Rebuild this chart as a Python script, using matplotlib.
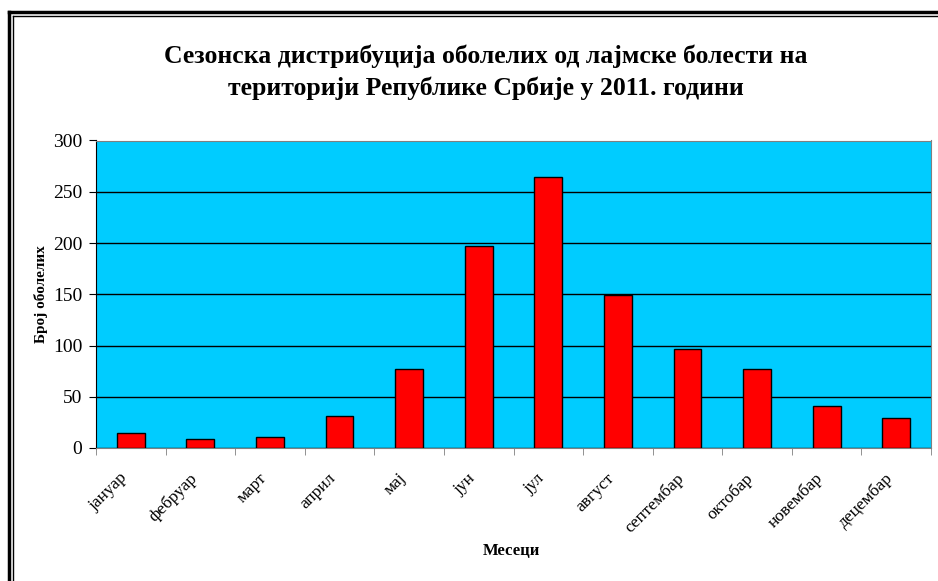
import matplotlib.pyplot as plt
import matplotlib.transforms as mtransforms
from matplotlib.lines import Line2D

# подаци
meseci = ['јануар', 'фебруар', 'март', 'април', 'мај', 'јун', 'јул',
          'август', 'септембар', 'октобар', 'новембар', 'децембар']
oboleli = [15, 9, 11, 31, 77, 197, 264, 149, 97, 77, 41, 29]

plt.rcParams['font.family'] = ['Liberation Serif', 'DejaVu Serif']

W, H = 938, 581
fig = plt.figure(figsize=(W / 100, H / 100), dpi=100)
ax = fig.add_axes([96 / W, 1 - 448 / H, (931 - 96) / W, (448 - 140.5) / H])

x = range(len(meseci))
ax.bar(x, oboleli, width=0.4, color='#FF0000', edgecolor='black', linewidth=1, zorder=3)

ax.set_facecolor('#00CCFF')
ax.set_ylim(0, 300)
ax.set_xlim(-0.5, len(meseci) - 0.5)
ax.set_yticks(range(0, 301, 50))
ax.yaxis.grid(True, color='black', linewidth=1, zorder=1)
ax.tick_params(axis='y', direction='out', length=5, labelsize=14, pad=5)

ax.set_xticks(list(x))
ax.set_xticklabels(meseci, rotation=45, ha='right', va='center',
                   rotation_mode='anchor', fontsize=12.5)
ax.tick_params(axis='x', which='major', length=0, pad=20)
ax.set_xticks([i - 0.5 for i in range(len(meseci) + 1)], minor=True)
ax.tick_params(axis='x', which='minor', direction='out', length=5, color='gray')

# мали помак натпис улево
pomak = mtransforms.ScaledTranslation(-0.06, 0, fig.dpi_scale_trans)
for lbl in ax.get_xticklabels():
    lbl.set_transform(lbl.get_transform() + pomak)

for s in ['top', 'right', 'bottom']:
    ax.spines[s].set_color('gray')
ax.spines['left'].set_color('black')

ax.set_xlabel('Месеци', fontsize=12, fontweight='bold')
ax.xaxis.set_label_coords(0.497, -0.31)
ax.set_ylabel('Број оболелих', fontsize=11, fontweight='bold')
ax.yaxis.set_label_coords(-0.057, 0.5)

fig.text(486 / W, 1 - 72 / H,
         'Сезонска дистрибуција оболелих од лајмске болести на\nтериторији Републике Србије у 2011. години',
         ha='center', va='center', fontsize=18.5, fontweight='bold', linespacing=1.45)

# оквир
fig.add_artist(Line2D([9 / W, 9 / W], [0, 1 - 12 / H], transform=fig.transFigure, color='black', linewidth=2.5))
fig.add_artist(Line2D([9 / W, 1], [1 - 12 / H, 1 - 12 / H], transform=fig.transFigure, color='black', linewidth=2.5))
fig.add_artist(Line2D([13 / W, 13 / W], [0, 1 - 16 / H], transform=fig.transFigure, color='black', linewidth=1))
fig.add_artist(Line2D([13 / W, 1], [1 - 16 / H, 1 - 16 / H], transform=fig.transFigure, color='black', linewidth=1))

fig.savefig('out.png', dpi=100)
